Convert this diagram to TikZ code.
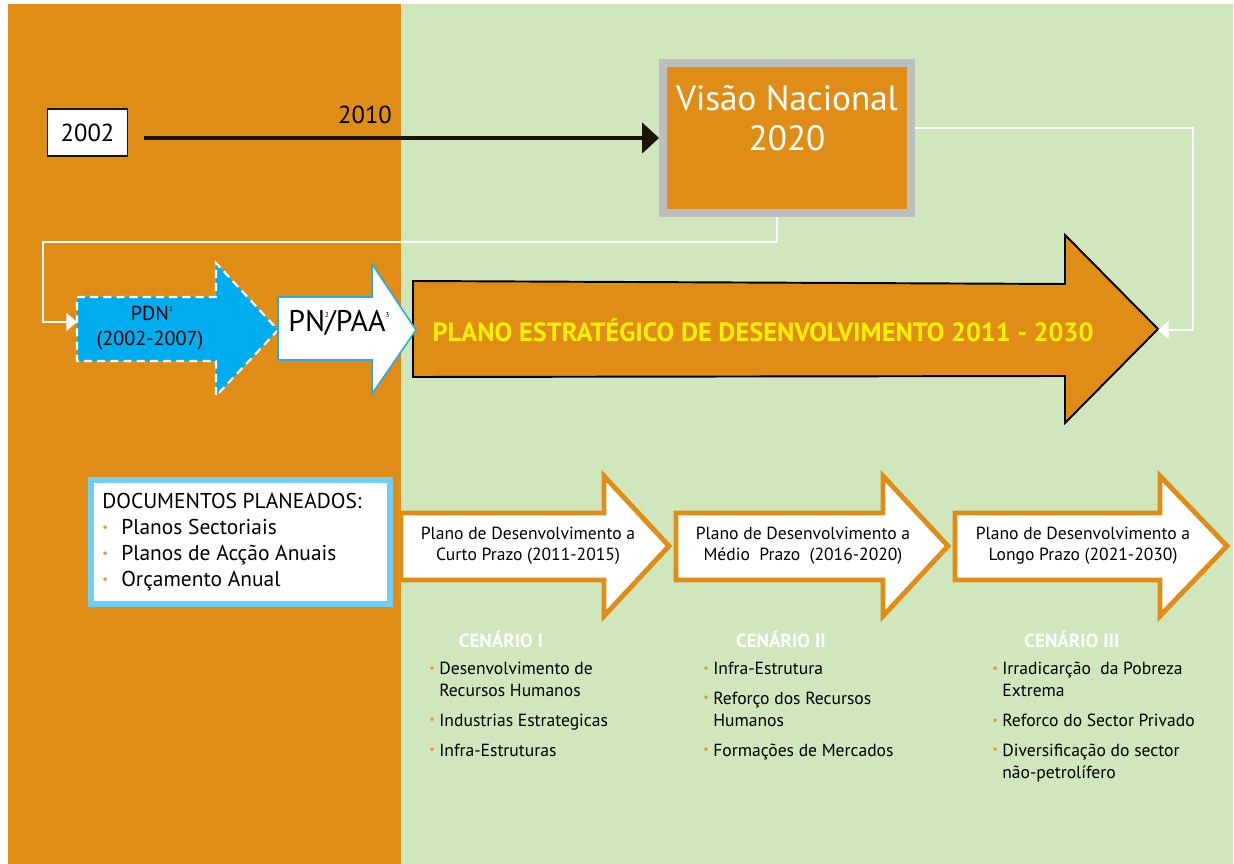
\documentclass[tikz,border=0pt]{standalone}
\usepackage{fontspec}
\setmainfont{PT Sans}
\usepackage{tikz}
\usetikzlibrary{arrows.meta, positioning, calc}
\definecolor{planorange}{HTML}{E08D18}
\definecolor{planbg}{HTML}{D0E6BC}
\definecolor{pdnblue}{HTML}{00AEEF}
\definecolor{pnframe}{HTML}{29ABE2}
\definecolor{docframe}{HTML}{6DCFF6}
\definecolor{visframe}{HTML}{BCBEC0}
\definecolor{titleyellow}{HTML}{FFF200}
\definecolor{dotorange}{HTML}{EE921F}
\definecolor{lineblack}{HTML}{1A1409}
\newcommand{\dotitem}{\makebox[10.8pt][l]{\raisebox{1.6pt}{\textcolor{dotorange}{\fontsize{7}{7}\selectfont\textbullet}}}}
\newcommand{\dotsmall}{\makebox[5.7pt][l]{\raisebox{1.5pt}{\textcolor{dotorange}{\fontsize{7}{7}\selectfont\textbullet}}}}

\begin{document}
\begin{tikzpicture}[
  x=0.02cm, y=-0.02cm,
  yearbox/.style={rectangle, draw=lineblack, line width=0.6pt, fill=white,
                  minimum width=1.6cm, minimum height=0.94cm, inner sep=0pt,
                  font=\fontsize{14}{16}\selectfont},
  visbox/.style={rectangle, draw=visframe, line width=4.5pt, fill=planorange,
                 minimum width=4.96cm, minimum height=3.0cm},
  vistext/.style={align=center, text=white, inner sep=0pt,
                  font=\fontsize{20}{22.7}\selectfont},
  pdnshape/.style={fill=pdnblue, draw=white, line width=1.2pt,
                   dash pattern=on 4.5pt off 3pt},
  pnshape/.style={fill=white, draw=pnframe, line width=0.9pt},
  pedshape/.style={fill=planorange, draw=black, line width=1.1pt},
  termshape/.style={fill=white, draw=planorange, line width=2.8pt},
  docbox/.style={rectangle, draw=docframe, line width=3.4pt, fill=white,
                 minimum width=5.98cm, minimum height=2.48cm},
  doctext/.style={align=left, anchor=west, inner sep=0pt,
                  font=\fontsize{12.2}{14.9}\selectfont},
  termtext/.style={align=center, inner sep=0pt, font=\fontsize{10}{12}\selectfont},
  scenhead/.style={text=white, inner sep=0pt, font=\bfseries\fontsize{10.8}{12}\selectfont},
  scenlist/.style={align=left, anchor=north west, inner sep=0pt,
                   font=\fontsize{10}{12.5}\selectfont},
  timearrow/.style={-{Triangle[length=9.6pt,width=17pt]}, line width=2.8pt, lineblack},
  wline/.style={-{Triangle[length=6pt,width=10pt]}, line width=1.1pt, white},
]

%% -- Background: two bands ------------------------------------------------------
\useasboundingbox (0,0) rectangle (1234,864);
\fill[white]      (0,0)   rectangle (1234,864);
\fill[planorange] (8,4)   rectangle (401,864);
\fill[planbg]     (401,4) rectangle (1233,864);

%% -- Row 1: timeline towards the vision -------------------------------------------
\node[yearbox] (y2002) at (87.5,132.5) {2002};
\node[visbox]  (vis)   at (787,138) {};
\node[vistext] (vistxt) at (787,118) {Visão Nacional\\2020};
\node[inner sep=0pt, font=\fontsize{14}{16}\selectfont] (y2010) at (365,115) {2010};

\draw[timearrow] ($(y2002.east |- vis.west)+(16,0)$) -- (vis.west);

%% -- Row 2: plan arrows -----------------------------------------------------------
\draw[pedshape] (413,281) -- (1065,284) -- (1065,235) -- (1158,329)
                -- (1065,423) -- (1065,376) -- (413,377) -- cycle;
\coordinate (pedtip) at (1158,330);
\node[text=titleyellow, inner sep=0pt, font=\bfseries\fontsize{15}{17}\selectfont]
     (pedtxt) at (763,330) {PLANO ESTRATÉGICO DE DESENVOLVIMENTO 2011 - 2030};

\draw[pdnshape] (77,297) -- (216,297) -- (216,263) -- (278,330)
                -- (216,396) -- (216,361) -- (77,361) -- cycle;
\coordinate (pdnin) at (77,322);
\node[align=center, inner sep=0pt, font=\fontsize{11.5}{14}\selectfont]
     (pdntxt) at (150,328) {PDN\rlap{\raisebox{5pt}{\fontsize{4}{4}\selectfont 1}}\\(2002-2007)};

\draw[pnshape] (278,297) -- (372,297) -- (372,264) -- (416,330)
               -- (372,394) -- (372,360) -- (278,360) -- cycle;
\node[inner sep=0pt, font=\fontsize{17}{20}\selectfont] (pntxt) at (337,323)
     {PN\rlap{\raisebox{8pt}{\fontsize{4}{4}\selectfont 2}}/PAA\rlap{\raisebox{8pt}{\fontsize{4}{4}\selectfont 3}}};

%% -- White feedback lines ---------------------------------------------------------
\draw[wline] ([yshift=5.7pt]vis.east) -| ([xshift=19.8pt]pedtip) -- (pedtip);
\draw[wline] ([xshift=-5.7pt]vis.south) |- (43,242) |- (pdnin);

%% -- Row 3: documents and term plans ----------------------------------------------
\node[docbox] (docs) at (240.5,542) {};
\node[doctext] (doctxt) at (102,542) {DOCUMENTOS PLANEADOS:\\
    \dotitem Planos Sectoriais\\
    \dotitem Planos de Acção Anuais\\
    \dotitem Orçamento Anual};

\draw[termshape] (401,513) -- (604,513) -- (604,476) -- (669,546)
                 -- (604,616) -- (604,580) -- (401,580) -- cycle;
\draw[termshape] (676,513) -- (883,513) -- (883,476) -- (948,546)
                 -- (883,616) -- (883,580) -- (676,580) -- cycle;
\draw[termshape] (955,513) -- (1160,513) -- (1160,476) -- (1227,546)
                 -- (1160,616) -- (1160,580) -- (955,580) -- cycle;

\node[termtext] (curto) at (528,545.5) {Plano de Desenvolvimento a\\Curto Prazo (2011-2015)};
\node[termtext] (medio) at (803,545.5) {Plano de Desenvolvimento a\\Médio~ Prazo~ (2016-2020)};
\node[termtext] (longo) at (1083,545.5) {Plano de Desenvolvimento a\\Longo Prazo (2021-2030)};

%% -- Row 4: scenarios -------------------------------------------------------------
\node[scenhead] (cen1) at (501,639) {CENÁRIO I};
\node[scenhead] (cen2) at (781,639) {CENÁRIO II};
\node[scenhead] (cen3) at (1072,639) {CENÁRIO III};

\node[scenlist] (list1) at (429,662) {\dotsmall Desenvolvimento de\\
    \hspace*{5.7pt}Recursos Humanos\\[4.5pt]
    \dotsmall Industrias Estrategicas\\[4.5pt]
    \dotsmall Infra-Estruturas};
\node[scenlist] (list2) at (703,662) {\dotsmall Infra-Estrutura\\[4.5pt]
    \dotsmall Reforço dos Recursos\\
    \hspace*{5.7pt}Humanos\\[4.5pt]
    \dotsmall Formações de Mercados};
\node[scenlist] (list3) at (992,662) {\dotsmall Irradicarção~ da Pobreza\\
    \hspace*{5.7pt}Extrema\\[4.5pt]
    \dotsmall Reforco do Sector Privado\\[4.5pt]
    \dotsmall Diversificação do sector\\
    \hspace*{5.7pt}não-petrolífero};

\end{tikzpicture}
\end{document}
